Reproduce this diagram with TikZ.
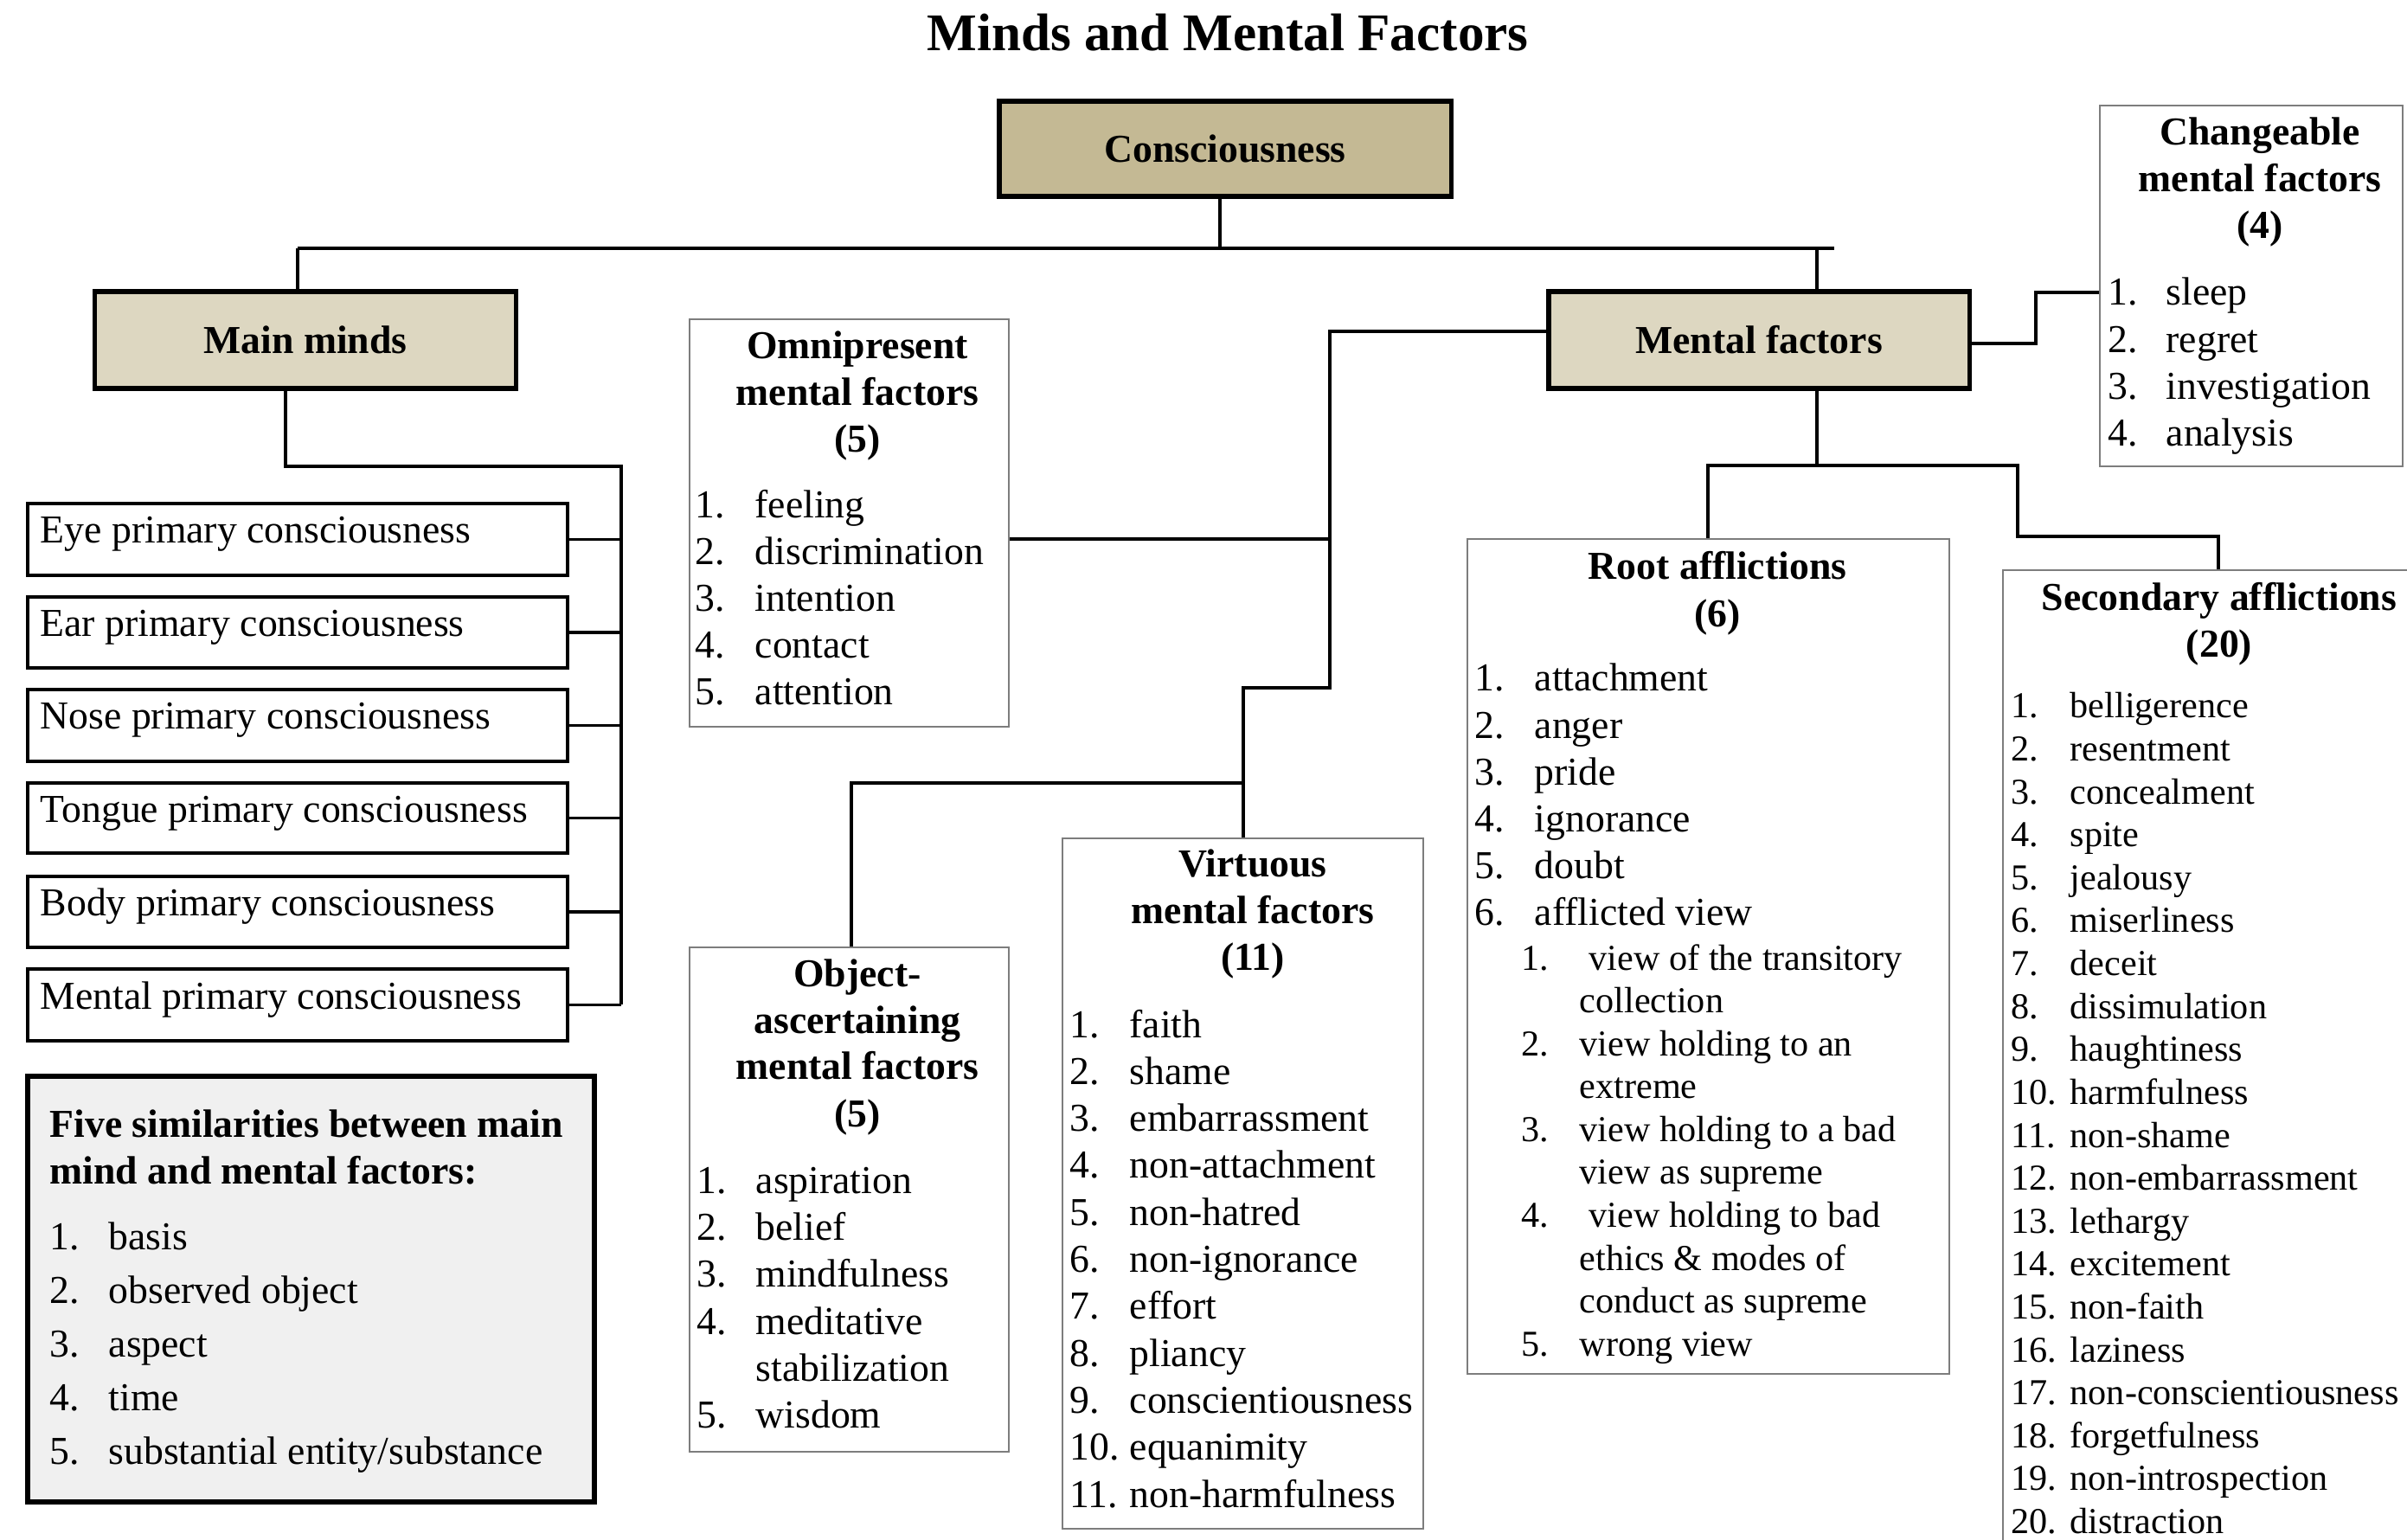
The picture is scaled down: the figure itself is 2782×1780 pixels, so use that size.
\documentclass[tikz,border=0pt]{standalone}
\usepackage{fontspec}
\setmainfont{Liberation Serif}
\newcommand\fsA{\fontsize{13}{15.4}\selectfont}
\newcommand\fsB{\fontsize{12}{14}\selectfont}
\newcommand\fsT{\fontsize{17.4}{20}\selectfont\bfseries}
\definecolor{tanD}{RGB}{196,185,148}
\definecolor{tanL}{RGB}{221,215,193}
\definecolor{grayF}{RGB}{240,240,240}
\definecolor{lgray}{RGB}{125,125,125}
\newcommand\mkbox[6]{\node[#1, minimum width={(#5-#3)*0.01cm}, minimum height={(#6-#4)*0.01cm}] (#2) at ({(#3+#5)/2},{(#4+#6)/2}) {};}
\tikzset{
  thickbox/.style={draw, line width=1.5pt, inner sep=0pt, font=\fsA\bfseries},
  pcbox/.style={draw, line width=0.9pt, inner sep=0pt},
  lbox/.style={draw=lgray, line width=0.6pt, inner sep=0pt},
  conn/.style={line width=0.9pt, black},
  itm/.style={anchor=base west, inner sep=0pt, font=\fsA},
  itmB/.style={anchor=base west, inner sep=0pt, font=\fsB},
  ttl/.style={anchor=base, inner sep=0pt, font=\fsA\bfseries},
  ttlL/.style={anchor=base west, inner sep=0pt, font=\fsA\bfseries},
}
\begin{document}
\begin{tikzpicture}[x=0.01cm, y=-0.01cm]
\useasboundingbox (0,0) rectangle (2782,1780);
\clip (0,0) rectangle (2782,1780);
\fill[white] (0,0) rectangle (2782,1780);

\node[anchor=base, inner sep=0pt, font=\fsT] (title) at (1419,59) {Minds and Mental Factors};

% main boxes
\node[thickbox, fill=tanD, minimum width=5.22cm, minimum height=1.10cm] (cons) at (1416,172) {Consciousness};
\node[thickbox, fill=tanL, minimum width=4.86cm, minimum height=1.12cm] (mainminds) at (353,393) {Main minds};
\node[thickbox, fill=tanL, minimum width=4.86cm, minimum height=1.12cm] (mental) at (2033,393) {Mental factors};

% primary consciousness boxes
\mkbox{pcbox}{pc1}{32}{582}{656}{665}
\mkbox{pcbox}{pc2}{32}{690}{656}{772}
\mkbox{pcbox}{pc3}{32}{797}{656}{880}
\mkbox{pcbox}{pc4}{32}{905}{656}{986}
\mkbox{pcbox}{pc5}{32}{1013}{656}{1095}
\mkbox{pcbox}{pc6}{32}{1120}{656}{1203}
\node[itm] (pct1) at (46,628) {Eye primary consciousness};
\node[itm] (pct2) at (46,736) {Ear primary consciousness};
\node[itm] (pct3) at (46,843) {Nose primary consciousness};
\node[itm] (pct4) at (46,951) {Tongue primary consciousness};
\node[itm] (pct5) at (46,1059) {Body primary consciousness};
\node[itm] (pct6) at (46,1166) {Mental primary consciousness};

% five similarities
\mkbox{thickbox, fill=grayF}{five}{32}{1244}{687}{1736}
\node[ttlL] (fivet1) at (57,1314) {Five similarities between main};
\node[ttlL] (fivet2) at (57,1368) {mind and mental factors:};
\foreach \t [count=\i] in {basis,observed object,aspect,time,substantial entity/substance}{
  \node[itm, name=fiven\i] at (57,{1444+(\i-1)*62}) {\i.};
  \node[itm, name=fivei\i] at (125,{1444+(\i-1)*62}) {\t};
}

% omnipresent
\mkbox{lbox}{omni}{797}{369}{1166}{840}
\node[ttl] (omt1) at (991,415) {Omnipresent};
\node[ttl] (omt2) at (991,469) {mental factors};
\node[ttl] (omt3) at (991,523) {(5)};
\foreach \t [count=\i] in {feeling,discrimination,intention,contact,attention}{
  \node[itm, name=omn\i] at (803,{599+(\i-1)*54}) {\i.};
  \node[itm, name=omi\i] at (872,{599+(\i-1)*54}) {\t};
}

% object-ascertaining
\mkbox{lbox}{obj}{797}{1095}{1166}{1678}
\node[ttl] (obt1) at (991,1140) {Object-};
\node[ttl] (obt2) at (991,1194) {ascertaining};
\node[ttl] (obt3) at (991,1248) {mental factors};
\node[ttl] (obt4) at (991,1302) {(5)};
\node[itm] (obn1) at (805,1379) {1.};
\node[itm] (obi1) at (873,1379) {aspiration};
\node[itm] (obn2) at (805,1433) {2.};
\node[itm] (obi2) at (873,1433) {belief};
\node[itm] (obn3) at (805,1487) {3.};
\node[itm] (obi3) at (873,1487) {mindfulness};
\node[itm] (obn4) at (805,1542) {4.};
\node[itm] (obi4) at (873,1542) {meditative};
\node[itm] (obi4b) at (873,1596) {stabilization};
\node[itm] (obn5) at (805,1650) {5.};
\node[itm] (obi5) at (873,1650) {wisdom};

% virtuous
\mkbox{lbox}{virt}{1228}{969}{1645}{1767}
\node[ttl] (vt1) at (1448,1014) {Virtuous};
\node[ttl] (vt2) at (1448,1068) {mental factors};
\node[ttl] (vt3) at (1448,1122) {(11)};
\foreach \t [count=\i] in {faith,shame,embarrassment,non-attachment,non-hatred,non-ignorance,effort,pliancy,conscientiousness,equanimity,non-harmfulness}{
  \node[itm, name=vn\i] at (1236,{1199+(\i-1)*54.3}) {\i.};
  \node[itm, name=vi\i] at (1305,{1199+(\i-1)*54.3}) {\t};
}

% root afflictions
\mkbox{lbox}{root}{1696}{623}{2253}{1588}
\node[ttl] (rt1) at (1985,670) {Root afflictions};
\node[ttl] (rt2) at (1985,725) {(6)};
\foreach \t [count=\i] in {attachment,anger,pride,ignorance,doubt,afflicted view}{
  \node[itm, name=rn\i] at (1704,{799+(\i-1)*54.2}) {\i.};
  \node[itm, name=ri\i] at (1773,{799+(\i-1)*54.2}) {\t};
}
\node[itmB] (rsn1) at (1758,1122) {1.};
\node[itmB] (rsi1) at (1836,1122) {view of the transitory};
\node[itmB] (rsi1b) at (1825,1171) {collection};
\node[itmB] (rsn2) at (1758,1220) {2.};
\node[itmB] (rsi2) at (1825,1220) {view holding to an};
\node[itmB] (rsi2b) at (1825,1269) {extreme};
\node[itmB] (rsn3) at (1758,1319) {3.};
\node[itmB] (rsi3) at (1825,1319) {view holding to a bad};
\node[itmB] (rsi3b) at (1825,1368) {view as supreme};
\node[itmB] (rsn4) at (1758,1418) {4.};
\node[itmB] (rsi4) at (1836,1418) {view holding to bad};
\node[itmB] (rsi4b) at (1825,1468) {ethics \& modes of};
\node[itmB] (rsi4c) at (1825,1517) {conduct as supreme};
\node[itmB] (rsn5) at (1758,1567) {5.};
\node[itmB] (rsi5) at (1825,1567) {wrong view};

% secondary afflictions
\mkbox{lbox}{sec}{2315}{659}{2900}{1900}
\node[ttl] (st1) at (2565,706) {Secondary afflictions};
\node[ttl] (st2) at (2565,760) {(20)};
\foreach \t [count=\i] in {belligerence,resentment,concealment,spite,jealousy,miserliness,deceit,dissimulation,haughtiness,harmfulness,non-shame,non-embarrassment,lethargy,excitement,non-faith,laziness,non-conscientiousness,forgetfulness,non-introspection,distraction}{
  \node[itmB, name=sn\i] at (2324,{830+(\i-1)*49.6}) {\i.};
  \node[itmB, name=si\i] at (2392,{830+(\i-1)*49.6}) {\t};
}

% changeable
\mkbox{lbox}{chg}{2427}{122}{2777}{539}
\node[ttl] (ct1) at (2612,168) {Changeable};
\node[ttl] (ct2) at (2612,222) {mental factors};
\node[ttl] (ct3) at (2612,276) {(4)};
\foreach \t [count=\i] in {sleep,regret,investigation,analysis}{
  \node[itm, name=cn\i] at (2436,{353+(\i-1)*54.3}) {\i.};
  \node[itm, name=ci\i] at (2503,{353+(\i-1)*54.3}) {\t};
}

% ---------- connectors ----------
\coordinate (busL) at (344,287);
\coordinate (busR) at (2120,287);
\coordinate (busM) at (2100,287);
\coordinate (busC) at (1410,287);
\draw[conn] (busC |- cons.south) -- (busC);
\draw[conn] (busL) -- (busR);
\draw[conn] (busL) -- (busL |- mainminds.north);
\draw[conn] (busM) -- (busM |- mental.north);

% main minds tree
\coordinate (mm1) at (330,539);
\coordinate (mm2) at (718,539);
\draw[conn] (mm1 |- mainminds.south) -- (mm1) -- (mm2) -- (mm2 |- pc6.east);
\foreach \i in {1,...,6}{
  \draw[conn] (pc\i.east) -- (pc\i.east -| mm2);
}

% mental factors left branch
\coordinate (ml1) at (1537,383);
\coordinate (ml2) at (1537,795);
\coordinate (ml3) at (1437,795);
\coordinate (ml4) at (1437,905);
\coordinate (ml5) at (984,905);
\coordinate (omj) at (1537,623);
\draw[conn] (mental.west |- ml1) -- (ml1) -- (ml2) -- (ml3) -- (ml3 |- virt.north);
\draw[conn] (omni.east |- omj) -- (omj);
\draw[conn] (ml4) -- (ml5) -- (ml5 |- obj.north);

% changeable branch
\coordinate (ch1) at (2353,397);
\coordinate (ch2) at (2353,338);
\draw[conn] (mental.east |- ch1) -- (ch1) -- (ch2) -- (ch2 -| chg.west);

% afflictions branches
\coordinate (mb) at (2100,538);
\coordinate (mbL) at (1974,538);
\coordinate (mbR) at (2332,538);
\coordinate (mbR2) at (2332,620);
\coordinate (mbR3) at (2564,620);
\draw[conn] (mb |- mental.south) -- (mb);
\draw[conn] (mbL |- root.north) -- (mbL) -- (mbR) -- (mbR2) -- (mbR3) -- (mbR3 |- sec.north);
\end{tikzpicture}
\end{document}
